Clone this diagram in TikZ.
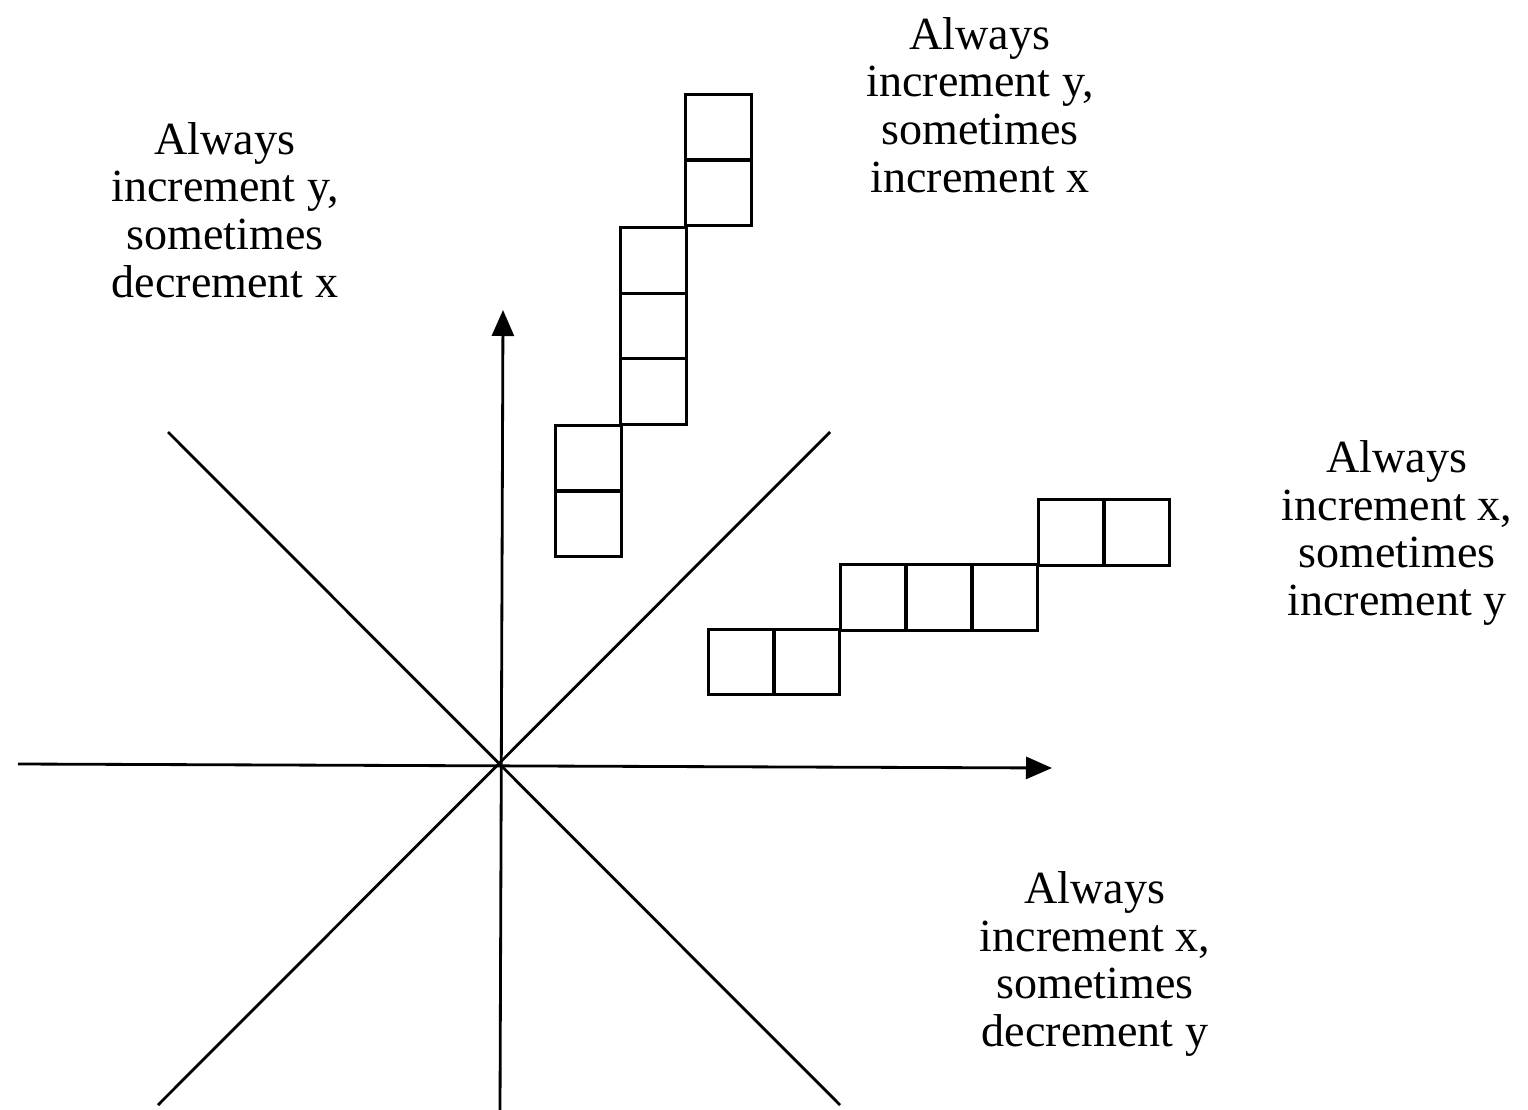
\documentclass[tikz,border=0pt]{standalone}
\usepackage{fontspec}
\setmainfont{Liberation Serif}
\usetikzlibrary{arrows.meta,positioning}

\tikzset{
    axisline/.style={line width=0.8pt, -{Triangle[length=0.26cm, width=0.22cm]}},
    diagline/.style={line width=0.8pt},
    cell/.style={draw, line width=0.8pt, minimum size=0.655cm, inner sep=0pt},
    caption/.style={align=center, font=\fontsize{13.1pt}{13.6pt}\selectfont}
}

\begin{document}
\begin{tikzpicture}[x=0.01cm, y=-0.01cm]
    \useasboundingbox (0,0) rectangle (1528,1110);

    % axes
    \coordinate (xl) at (18,764);
    \coordinate (xr) at (1052,768);
    \coordinate (yb) at (500,1110);
    \coordinate (yt) at (503,310);
    \draw[axisline] (xl) -- (xr);
    \draw[axisline] (yb) -- (yt);

    % octant boundaries
    \coordinate (d1a) at (168,432);
    \coordinate (d1b) at (840,1105);
    \coordinate (d2a) at (830,432);
    \coordinate (d2b) at (158,1105);
    \draw[diagline] (d1a) -- (d1b);
    \draw[diagline] (d2a) -- (d2b);

    % steep line: pixels
    \foreach \i/\x/\y in {1/588.5/524, 2/588.5/458, 3/653.5/391.5, 4/653.5/326, 5/653.5/260.5, 6/718.5/193, 7/718.5/127}
        \node[cell] (v\i) at (\x,\y) {};

    % shallow line: pixels
    \foreach \i/\x/\y in {1/741/662, 2/807/662, 3/873/597.5, 4/939/597.5, 5/1005/597.5, 6/1071/532.5, 7/1137/532.5}
        \node[cell] (h\i) at (\x,\y) {};

    % captions
    \node[caption] (ul) at (225,210) {Always\\increment y,\\sometimes\\decrement x};
    \node[caption] (ur) at (980,105) {Always\\increment y,\\sometimes\\increment x};
    \node[caption] (rr) at (1397,533) {Always\\increment x,\\sometimes\\increment y};
    \node[caption] (lr) at (1095,964) {Always\\increment x,\\sometimes\\decrement y};
\end{tikzpicture}
\end{document}
